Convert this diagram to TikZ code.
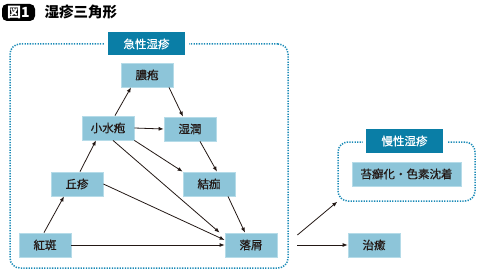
\documentclass[tikz,border=0pt]{standalone}
\usepackage{fontspec}
\setmainfont{Noto Sans CJK JP}
\newfontfamily\cjkmed[FakeBold=0.6]{Noto Sans CJK JP}
\usepackage{xcolor}
\usepackage{tikz}
\usetikzlibrary{arrows.meta,positioning}

\definecolor{boxfill}{HTML}{8DC5D9}
\definecolor{boxedge}{HTML}{B5DBE8}
\definecolor{tagfill}{HTML}{0A7EA6}
\definecolor{dotline}{HTML}{1B8BB7}
\definecolor{inkdark}{HTML}{231815}

\begin{document}
\begin{tikzpicture}[
    x=1pt,
    y=-1pt,
    >={Latex[length=5pt,width=4pt]},
    stage/.style={rectangle,fill=boxfill,draw=boxedge,line width=0.8pt,
        minimum width=52pt,minimum height=24pt,inner sep=0pt,
        text=inkdark,font=\cjkmed\fontsize{11.5}{12}\selectfont},
    tag/.style={rectangle,fill=tagfill,text=white,
        minimum width=77pt,minimum height=23pt,inner sep=0pt,
        font=\cjkmed\fontsize{11.5}{12}\selectfont,
        preaction={draw=white,line width=7pt}},
    frame/.style={rectangle,rounded corners=10pt,draw=dotline,
        line width=1.5pt,dash pattern=on 1.3pt off 1.3pt,inner sep=0pt},
    badge/.style={rectangle,rounded corners=5pt,fill=black,text=white,
        minimum width=33pt,minimum height=17pt,inner sep=0pt,
        font=\bfseries\fontsize{14}{14}\selectfont},
    flow/.style={->,draw=inkdark,line width=0.8pt}
]

\useasboundingbox (0,0) rectangle (484,278);

% ---------------------------------------------------------
% Title
% ---------------------------------------------------------

\node[badge] (fig) at (18.5,12.5) {図1};

\node[anchor=west,font=\bfseries\fontsize{14.5}{15}\selectfont]
    (title) at (41,12.5) {湿疹三角形};

% ---------------------------------------------------------
% Frames
% ---------------------------------------------------------

\node[frame,minimum width=278pt,minimum height=224pt]
    (acute) at (149,156) {};

\node[frame,minimum width=137pt,minimum height=59pt]
    (chronic) at (406.5,171.5) {};

\node[tag] (acutetag) at (146.5,44) {急性湿疹};

\node[tag,minimum height=24pt] (chronictag) at (404.5,141) {慢性湿疹};

% ---------------------------------------------------------
% Stages
% ---------------------------------------------------------

\node[stage] (nouhou)    at (147,75)  {膿疱};
\node[stage] (suihou)    at (108,128) {小水疱};
\node[stage] (shitsujun) at (190,129) {湿潤};
\node[stage] (kyuushin)  at (77,184)  {丘疹};
\node[stage] (kekka)     at (209,184) {結痂};
\node[stage] (kouhan)    at (45,245)  {紅斑};
\node[stage] (rakusetsu) at (251,245) {落屑};
\node[stage] (chiyu)     at (374,245) {治癒};

\node[stage,minimum width=109pt]
    (taisen) at (406.5,174) {苔癬化・色素沈着};

% ---------------------------------------------------------
% Triangle arrows
% ---------------------------------------------------------

\draw[flow]
    ([xshift=-1pt]kouhan.north) -- ([xshift=-13pt]kyuushin.south);

\draw[flow]
    ([xshift=3pt]kyuushin.north) -- ([xshift=-12pt]suihou.south);

\draw[flow]
    ([xshift=7pt]suihou.north) -- ([xshift=-16pt]nouhou.south);

\draw[flow]
    ([xshift=22pt]nouhou.south) -- ([xshift=-7pt]shitsujun.north);

\draw[flow]
    ([xshift=10pt]shitsujun.south) -- ([xshift=8pt]kekka.north);

\draw[flow]
    ([xshift=19pt]kekka.south) -- ([xshift=-6pt]rakusetsu.north);

\draw[flow]
    (suihou.east) -- (shitsujun.west);

\draw[flow]
    (suihou.south east) -- (kekka.north west);

\draw[flow]
    ([xshift=5pt]suihou.south) -- ([xshift=-5pt]rakusetsu.north west);

\draw[flow]
    (kyuushin.east) -- ([yshift=5pt]rakusetsu.west);

\draw[flow]
    (kouhan.east) -- (rakusetsu.west);

% ---------------------------------------------------------
% Outcomes
% ---------------------------------------------------------

\draw[flow]
    ([xshift=20pt]rakusetsu.east) -- (chiyu.west);

\draw[flow]
    ([xshift=20pt,yshift=10pt]rakusetsu.east) -- (chronic.south west);

\end{tikzpicture}
\end{document}
